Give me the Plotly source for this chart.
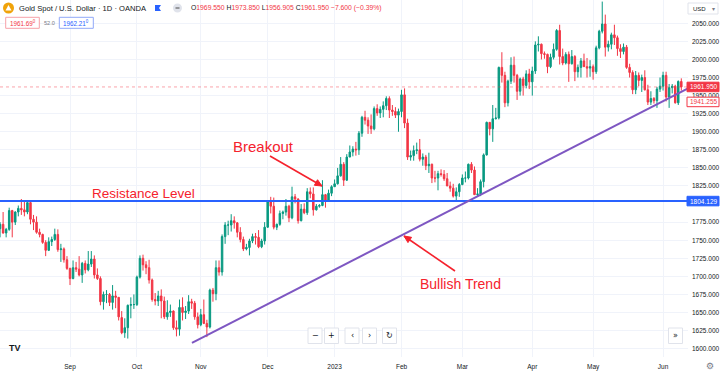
import math
import plotly.graph_objects as go
import pandas as pd

# ---------------- data ----------------
DATES = pd.bdate_range("2022-08-01", "2023-06-09")

OPEN = [1766, 1772, 1760, 1765, 1791, 1775, 1789, 1794, 1792, 1789,
        1802, 1779, 1775, 1761, 1758, 1747, 1736, 1748, 1751, 1758,
        1737, 1738, 1723, 1711, 1697, 1712, 1710, 1702, 1718, 1709,
        1717, 1724, 1702, 1697, 1665, 1675, 1675, 1664, 1673, 1671,
        1643, 1622, 1629, 1660, 1661, 1661, 1699, 1725, 1716, 1712,
        1695, 1668, 1666, 1673, 1666, 1644, 1650, 1652, 1629, 1627,
        1657, 1650, 1652, 1665, 1663, 1644, 1633, 1647, 1635, 1630,
        1681, 1676, 1712, 1706, 1755, 1771, 1771, 1777, 1774, 1761,
        1751, 1738, 1740, 1749, 1755, 1754, 1741, 1749, 1768, 1803,
        1797, 1768, 1772, 1787, 1789, 1797, 1781, 1810, 1807, 1777,
        1793, 1788, 1817, 1814, 1792, 1797, 1798, 1813, 1804, 1815,
        1824, 1828, 1839, 1855, 1833, 1865, 1872, 1876, 1875, 1898,
        1920, 1916, 1908, 1904, 1932, 1926, 1931, 1936, 1946, 1930,
        1928, 1923, 1928, 1951, 1912, 1865, 1867, 1874, 1875, 1862,
        1865, 1853, 1855, 1836, 1836, 1842, 1841, 1835, 1825, 1822,
        1811, 1817, 1827, 1836, 1836, 1855, 1847, 1813, 1814, 1831,
        1868, 1913, 1904, 1918, 1919, 1989, 1978, 1940, 1970, 1992,
        1978, 1956, 1973, 1964, 1980, 1969, 1984, 2020, 2021, 2008,
        2007, 1990, 2003, 2014, 2040, 2004, 1995, 2007, 1994, 2004,
        1983, 1989, 1998, 1990, 1988, 1990, 1983, 2016, 2039, 2049,
        2017, 2021, 2034, 2030, 2015, 2011, 2017, 1989, 1982, 1958,
        1978, 1971, 1975, 1958, 1941, 1946, 1943, 1959, 1963, 1978,
        1948, 1961, 1963, 1940, 1969.55]

HIGH = [1775, 1789, 1767, 1795, 1792, 1790, 1798, 1807, 1804, 1802,
        1803, 1785, 1783, 1766, 1759, 1750, 1754, 1755, 1766, 1765,
        1745, 1740, 1728, 1712, 1722, 1720, 1728, 1720, 1722, 1735,
        1735, 1729, 1711, 1700, 1679, 1681, 1677, 1688, 1680, 1671,
        1652, 1642, 1661, 1671, 1675, 1701, 1729, 1730, 1721, 1723,
        1697, 1677, 1680, 1682, 1672, 1667, 1661, 1653, 1639, 1668,
        1671, 1659, 1674, 1669, 1666, 1650, 1655, 1668, 1640, 1683,
        1684, 1722, 1722, 1758, 1775, 1777, 1786, 1783, 1775, 1768,
        1755, 1745, 1752, 1759, 1760, 1764, 1752, 1775, 1805, 1810,
        1809, 1773, 1791, 1791, 1807, 1799, 1824, 1814, 1808, 1800,
        1801, 1822, 1823, 1823, 1800, 1800, 1833, 1814, 1820, 1826,
        1834, 1850, 1865, 1858, 1869, 1881, 1880, 1886, 1901, 1922,
        1929, 1920, 1924, 1935, 1938, 1935, 1942, 1949, 1949, 1937,
        1934, 1932, 1958, 1960, 1918, 1874, 1881, 1885, 1890, 1870,
        1868, 1871, 1856, 1846, 1846, 1848, 1847, 1843, 1831, 1828,
        1823, 1829, 1841, 1845, 1856, 1858, 1852, 1822, 1834, 1870,
        1914, 1913, 1937, 1933, 1990, 2010, 1983, 1972, 2003, 2004,
        1980, 1975, 1976, 1985, 1987, 1990, 2025, 2032, 2022, 2011,
        2008, 2008, 2022, 2042, 2048, 2015, 2010, 2011, 2013, 2006,
        1993, 2002, 2008, 2002, 1999, 1993, 2019, 2041, 2080, 2062,
        2026, 2037, 2048, 2033, 2021, 2022, 2020, 1994, 1985, 1984,
        1982, 1979, 1985, 1965, 1956, 1948, 1962, 1975, 1983, 1983,
        1966, 1966, 1965, 1971, 1973.85]

LOW = [1754, 1759, 1754, 1763, 1754, 1771, 1783, 1785, 1783, 1786,
       1772, 1764, 1759, 1754, 1745, 1728, 1735, 1742, 1749, 1734,
       1720, 1719, 1709, 1688, 1696, 1706, 1700, 1691, 1704, 1707,
       1713, 1697, 1695, 1660, 1654, 1663, 1659, 1654, 1656, 1639,
       1620, 1615, 1614, 1642, 1655, 1659, 1697, 1708, 1703, 1690,
       1665, 1660, 1659, 1642, 1641, 1640, 1644, 1626, 1617, 1618,
       1639, 1641, 1648, 1655, 1640, 1628, 1631, 1634, 1616, 1628,
       1665, 1667, 1701, 1701, 1745, 1757, 1762, 1766, 1754, 1747,
       1735, 1736, 1729, 1746, 1744, 1739, 1739, 1744, 1767, 1787,
       1765, 1764, 1770, 1779, 1784, 1775, 1779, 1801, 1773, 1776,
       1786, 1785, 1808, 1784, 1791, 1795, 1797, 1795, 1803, 1811,
       1824, 1827, 1838, 1825, 1832, 1865, 1866, 1867, 1868, 1893,
       1910, 1897, 1897, 1902, 1922, 1919, 1920, 1930, 1919, 1922,
       1919, 1900, 1920, 1905, 1861, 1860, 1860, 1869, 1859, 1853,
       1847, 1843, 1829, 1830, 1819, 1838, 1832, 1825, 1817, 1809,
       1804, 1810, 1826, 1830, 1834, 1843, 1813, 1810, 1811, 1823,
       1867, 1895, 1886, 1917, 1917, 1968, 1934, 1935, 1966, 1968,
       1944, 1950, 1950, 1960, 1959, 1950, 1980, 2011, 2000, 2001,
       1981, 1988, 2000, 2012, 1993, 1992, 1993, 1969, 1993, 1970,
       1975, 1975, 1990, 1975, 1976, 1972, 1980, 2014, 2036, 2004,
       2011, 2014, 2020, 2005, 2002, 2007, 1987, 1975, 1952, 1952,
       1963, 1955, 1957, 1937, 1937, 1939, 1933, 1955, 1957, 1942,
       1933, 1953, 1939, 1937, 1956.905]

CLOSE = [1772, 1760, 1765, 1791, 1775, 1789, 1794, 1792, 1789, 1802,
         1779, 1775, 1761, 1758, 1747, 1736, 1748, 1751, 1758, 1737,
         1738, 1723, 1711, 1697, 1712, 1710, 1702, 1718, 1709, 1717,
         1724, 1702, 1697, 1665, 1675, 1675, 1664, 1673, 1671, 1644,
         1622, 1629, 1660, 1661, 1661, 1699, 1725, 1716, 1712, 1695,
         1668, 1666, 1673, 1666, 1644, 1650, 1652, 1629, 1627, 1657,
         1650, 1652, 1665, 1663, 1644, 1633, 1647, 1635, 1630, 1681,
         1676, 1712, 1706, 1755, 1771, 1771, 1777, 1774, 1761, 1751,
         1738, 1740, 1749, 1755, 1754, 1741, 1749, 1768, 1803, 1797,
         1768, 1772, 1787, 1789, 1797, 1781, 1810, 1807, 1777, 1793,
         1788, 1817, 1814, 1792, 1797, 1798, 1813, 1804, 1815, 1824,
         1828, 1839, 1855, 1833, 1865, 1872, 1876, 1875, 1898, 1920,
         1916, 1908, 1904, 1932, 1926, 1931, 1936, 1946, 1930, 1928,
         1923, 1928, 1951, 1912, 1865, 1867, 1874, 1875, 1862, 1865,
         1853, 1855, 1836, 1836, 1842, 1841, 1835, 1825, 1822, 1811,
         1817, 1827, 1836, 1836, 1855, 1847, 1813, 1814, 1831, 1868,
         1913, 1904, 1918, 1919, 1989, 1978, 1940, 1970, 1992, 1978,
         1956, 1973, 1964, 1980, 1969, 1984, 2020, 2021, 2008, 2007,
         1990, 2003, 2014, 2040, 2004, 1995, 2007, 1994, 2004, 1983,
         1989, 1998, 1990, 1988, 1990, 1983, 2016, 2039, 2049, 2017,
         2021, 2034, 2030, 2015, 2011, 2017, 1989, 1982, 1958, 1978,
         1971, 1975, 1958, 1941, 1946, 1943, 1959, 1963, 1978, 1948,
         1961, 1963, 1940, 1969.55, 1961.95]

TICK_LABELS = ["Sep", "Oct", "Nov", "Dec", "2023", "Feb", "Mar", "Apr", "May", "Jun"]
PRICE_TICKS = [1600, 1625, 1650, 1675, 1700, 1725, 1750, 1775,
               1825, 1850, 1875, 1900, 1925, 1950, 1975, 2000, 2025, 2050]

RESISTANCE = 1804.129
LAST_PRICE = 1961.950
MARK_PRICE = 1941.255
TREND_START = (63.1, 1608.0)   # (bar index, price)
TREND_END = (226.2, 1960.0)

TITLE = "Gold Spot / U.S. Dollar · 1D · OANDA"
OHLC_TEXT = ("<span style='color:#131722'>O</span>1969.550 "
             "<span style='color:#131722'>H</span>1973.850 "
             "<span style='color:#131722'>L</span>1956.905 "
             "<span style='color:#131722'>C</span>1961.950 "
             "−7.600 (−0.39%)")

# ---------------- layout helpers ----------------
W, H = 720, 374
PW, PH = 688, 357          # plot area in pixels (top-left at 0,0)


def px(x):
    return x / PW


def py(y):
    return 1 - y / PH


RED = "#f23645"
GREEN = "#089981"
BLUE = "#2962ff"
TXT = "#131722"
ANN_RED = "#f5222d"
FONT = "Liberation Sans"

xs = list(range(len(DATES)))
tick_idx = [i for i in range(1, len(DATES)) if DATES[i].month != DATES[i - 1].month]

fig = go.Figure()
fig.add_trace(go.Candlestick(
    x=xs, open=OPEN, high=HIGH, low=LOW, close=CLOSE,
    increasing=dict(line=dict(color=GREEN, width=1), fillcolor=GREEN),
    decreasing=dict(line=dict(color=RED, width=1), fillcolor=RED),
    whiskerwidth=0, showlegend=False, hoverinfo="skip",
))

shapes = []
ann = []

# current price dotted line
shapes.append(dict(type="line", xref="paper", yref="y", x0=0, x1=1,
                   y0=LAST_PRICE, y1=LAST_PRICE,
                   line=dict(color="rgba(242,54,69,0.45)", width=1, dash="dot")))
# resistance line
shapes.append(dict(type="line", xref="paper", yref="y", x0=0, x1=1,
                   y0=RESISTANCE, y1=RESISTANCE,
                   line=dict(color=BLUE, width=2)))
# bullish trend line
shapes.append(dict(type="line", xref="x", yref="y",
                   x0=TREND_START[0], y0=TREND_START[1],
                   x1=TREND_END[0], y1=TREND_END[1],
                   line=dict(color="#7e57c2", width=2)))


# price-axis labels
def price_box(price, fill, line, textcolor, text):
    shapes.append(dict(type="rect", xref="paper", yref="y",
                       x0=px(687), x1=px(719), y0=price - 6.6, y1=price + 6.6,
                       fillcolor=fill, line=dict(color=line, width=1), layer="above"))
    ann.append(dict(xref="paper", yref="y", x=px(703), y=price, text=text,
                    showarrow=False, xanchor="center", yanchor="middle",
                    font=dict(size=6.5, color=textcolor, family=FONT)))


price_box(LAST_PRICE, RED, RED, "white", f"{LAST_PRICE:.3f}")
price_box(MARK_PRICE, "white", RED, RED, f"{MARK_PRICE:.3f}")
price_box(RESISTANCE, BLUE, BLUE, "white", f"{RESISTANCE:.3f}")


# arrows (line + filled head), given in pixel positions
def arrow(x0, y0, x1, y1, color, head=7.0, half=3.2):
    shapes.append(dict(type="line", xref="paper", yref="paper",
                       x0=px(x0), y0=py(y0), x1=px(x1), y1=py(y1),
                       line=dict(color=color, width=1.6)))
    d = math.hypot(x1 - x0, y1 - y0)
    ux, uy = (x1 - x0) / d, (y1 - y0) / d
    bx, by = x1 - ux * head, y1 - uy * head
    lx, ly = bx - uy * half, by + ux * half
    rx, ry = bx + uy * half, by - ux * half
    shapes.append(dict(type="path", xref="paper", yref="paper",
                       path=f"M {px(x1)} {py(y1)} L {px(lx)} {py(ly)} L {px(rx)} {py(ry)} Z",
                       fillcolor=color, line=dict(color=color, width=1)))


arrow(270, 156, 322, 186, ANN_RED)
arrow(455, 271, 404, 236, ANN_RED)

# USD box
shapes.append(dict(type="rect", xref="paper", yref="paper",
                   x0=px(688), x1=px(718), y0=py(14), y1=py(3),
                   fillcolor="white", line=dict(color="#e0e3eb", width=1)))
ann.append(dict(xref="paper", yref="paper", x=px(691), y=py(8.5), text="USD",
                showarrow=False, xanchor="left", yanchor="middle",
                font=dict(size=6, color=TXT, family=FONT)))
ann.append(dict(xref="paper", yref="paper", x=px(713), y=py(8.5), text="▾",
                showarrow=False, xanchor="center", yanchor="middle",
                font=dict(size=6, color="#787b86", family="DejaVu Sans")))

# header
shapes.append(dict(type="circle", xref="paper", yref="paper",
                   x0=px(3), x1=px(14), y0=py(13.5), y1=py(2.5),
                   fillcolor="#f0a30a", line=dict(width=0)))
shapes.append(dict(type="path", xref="paper", yref="paper",
                   path=f"M {px(5.5)} {py(10.5)} L {px(8.5)} {py(5)} L {px(11.5)} {py(10.5)} Z",
                   fillcolor="white", line=dict(width=0)))
ann.append(dict(xref="paper", yref="paper", x=px(17), y=py(8), text=TITLE,
                showarrow=False, xanchor="left", yanchor="middle",
                font=dict(size=7.6, color=TXT, family=FONT)))
shapes.append(dict(type="path", xref="paper", yref="paper",
                   path=f"M {px(155)} {py(5)} L {px(161)} {py(5)} L {px(159)} {py(8)} L {px(161)} {py(11)} L {px(155)} {py(11)} Z",
                   fillcolor=BLUE, line=dict(width=0)))
shapes.append(dict(type="circle", xref="paper", yref="paper",
                   x0=px(173), x1=px(182), y0=py(12.5), y1=py(3.5),
                   fillcolor="#e0e3eb", line=dict(width=0)))
shapes.append(dict(type="line", xref="paper", yref="paper",
                   x0=px(175.5), x1=px(179.5), y0=py(8), y1=py(8),
                   line=dict(color="#4a4a4a", width=1)))
ann.append(dict(xref="paper", yref="paper", x=px(189), y=py(8), text=OHLC_TEXT,
                showarrow=False, xanchor="left", yanchor="middle",
                font=dict(size=6.8, color=RED, family=FONT)))

# bid / spread / ask boxes
shapes.append(dict(type="rect", xref="paper", yref="paper",
                   x0=px(5.7), x1=px(39.3), y0=py(28.3), y1=py(17.3),
                   fillcolor="white", line=dict(color="#f7a1a8", width=1)))
ann.append(dict(xref="paper", yref="paper", x=px(22.5), y=py(23), text="1961.69<sup>0</sup>",
                showarrow=False, xanchor="center", yanchor="middle",
                font=dict(size=6.3, color=RED, family=FONT)))
ann.append(dict(xref="paper", yref="paper", x=px(49), y=py(23), text="52.0",
                showarrow=False, xanchor="center", yanchor="middle",
                font=dict(size=5.6, color="#787b86", family=FONT)))
shapes.append(dict(type="rect", xref="paper", yref="paper",
                   x0=px(59.3), x1=px(93.3), y0=py(28.3), y1=py(17.3),
                   fillcolor="white", line=dict(color="#90a8f8", width=1)))
ann.append(dict(xref="paper", yref="paper", x=px(76.3), y=py(23), text="1962.21<sup>0</sup>",
                showarrow=False, xanchor="center", yanchor="middle",
                font=dict(size=6.3, color=BLUE, family=FONT)))

# chart annotations
ann.append(dict(xref="paper", yref="paper", x=px(263), y=py(146), text="Breakout",
                showarrow=False, xanchor="center", yanchor="middle",
                font=dict(size=15, color=ANN_RED, family=FONT)))
ann.append(dict(xref="paper", yref="paper", x=px(143.5), y=py(193.5), text="Resistance Level",
                showarrow=False, xanchor="center", yanchor="middle",
                font=dict(size=13.5, color=ANN_RED, family=FONT)))
ann.append(dict(xref="paper", yref="paper", x=px(460), y=py(284), text="Bullish Trend",
                showarrow=False, xanchor="center", yanchor="middle",
                font=dict(size=14, color=ANN_RED, family=FONT)))

# bottom toolbar buttons
for cx, sym in [(315, "−"), (331.5, "+"), (352, "‹"), (369.5, "›"), (389.5, "↻"), (675.5, "»")]:
    shapes.append(dict(type="rect", xref="paper", yref="paper",
                       x0=px(cx - 7), x1=px(cx + 7), y0=py(343.5), y1=py(328),
                       fillcolor="white", line=dict(color="#e0e3eb", width=1), layer="above"))
    ann.append(dict(xref="paper", yref="paper", x=px(cx), y=py(335.8), text=sym,
                    showarrow=False, xanchor="center", yanchor="middle",
                    font=dict(size=8, color=TXT, family="DejaVu Sans")))

# TradingView logo and gear
ann.append(dict(xref="paper", yref="paper", x=px(15), y=py(347.5), text="<b>TV</b>",
                showarrow=False, xanchor="center", yanchor="middle",
                font=dict(size=9, color=TXT, family=FONT)))
ann.append(dict(xref="paper", yref="paper", x=px(710), y=py(366), text="⚙",
                showarrow=False, xanchor="center", yanchor="middle",
                font=dict(size=9, color="#787b86", family="DejaVu Sans")))

fig.update_layout(
    width=W, height=H,
    margin=dict(l=0, r=W - PW, t=0, b=H - PH, autoexpand=False),
    paper_bgcolor="white", plot_bgcolor="white",
    shapes=shapes, annotations=ann, showlegend=False,
    font=dict(family=FONT, color=TXT),
    xaxis=dict(
        range=[-0.02, 226.2], tickvals=tick_idx, ticktext=TICK_LABELS,
        showgrid=True, gridcolor="#f0f3fa", gridwidth=1, zeroline=False,
        showline=False, ticks="", rangeslider=dict(visible=False),
        tickfont=dict(size=6.5, color=TXT, family=FONT), ticklabelstandoff=4,
        fixedrange=True,
    ),
    yaxis=dict(
        range=[1588.5, 2082.2], side="right", tickvals=PRICE_TICKS,
        tickformat=".3f", showgrid=True, gridcolor="#f0f3fa", gridwidth=1,
        zeroline=False, showline=False, ticks="",
        tickfont=dict(size=6.5, color=TXT, family=FONT), ticklabelstandoff=3,
        fixedrange=True,
    ),
)

fig.write_html(
    "out.html",
    config={"displayModeBar": False, "staticPlot": True},
    post_script="document.body.style.margin='0';document.body.style.overflow='hidden';",
)
